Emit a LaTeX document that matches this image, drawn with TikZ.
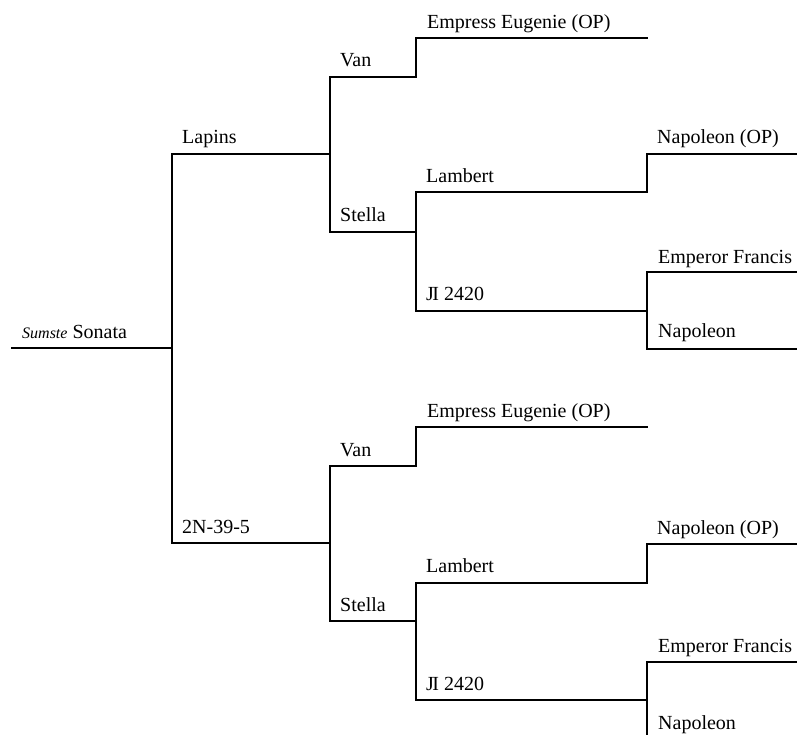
\documentclass[tikz,border=0pt]{standalone}
\usepackage{fontspec}
\setmainfont{Liberation Serif}
\tikzset{
  ped/.style={line width=1.5pt, line cap=rect},
  lbl/.style={anchor=base west, inner sep=0pt, font=\fontsize{20}{22}\selectfont},
}
\begin{document}
\begin{tikzpicture}[x=1pt, y=-1pt]
\clip (0,0) rectangle (797,735);
% junction coordinates (right ends of each bar)
\coordinate (root-l) at (12,348);
\coordinate (root) at (172,348);
\coordinate (lap) at (330,154);
\coordinate (tn) at (330,543);
% top branch
\coordinate (van1) at (416,77);
\coordinate (ste1) at (416,232);
\coordinate (ee1) at (647,38);
\coordinate (lam1) at (647,192);
\coordinate (ji1) at (647,311);
\coordinate (nop1) at (797,154);
\coordinate (ef1) at (797,272);
\coordinate (nap1) at (797,349);
% bottom branch
\coordinate (van2) at (416,466);
\coordinate (ste2) at (416,621);
\coordinate (ee2) at (647,427);
\coordinate (lam2) at (647,583);
\coordinate (ji2) at (647,700);
\coordinate (nop2) at (797,544);
\coordinate (ef2) at (797,662);
\coordinate (nap2) at (797,745);

\draw[ped] (root-l) -- (root);
\draw[ped] (root) |- (lap);
\draw[ped] (root) |- (tn);
\draw[ped] (lap) |- (van1);
\draw[ped] (lap) |- (ste1);
\draw[ped] (van1) |- (ee1);
\draw[ped] (ste1) |- (lam1);
\draw[ped] (ste1) |- (ji1);
\draw[ped] (lam1) |- (nop1);
\draw[ped] (ji1) |- (ef1);
\draw[ped] (ji1) |- (nap1);
\draw[ped] (tn) |- (van2);
\draw[ped] (tn) |- (ste2);
\draw[ped] (van2) |- (ee2);
\draw[ped] (ste2) |- (lam2);
\draw[ped] (ste2) |- (ji2);
\draw[ped] (lam2) |- (nop2);
\draw[ped] (ji2) |- (ef2);
\draw[ped] (ji2) |- (nap2);

% labels
\node[lbl] (t-root) at (22,338) {{\fontsize{16}{18}\selectfont\itshape Sumste} Sonata};
\node[lbl] (t-lap) at (182,144) {Lapins};
\node[lbl] (t-tn) at (182,533) {2N-39-5};
\node[lbl] (t-van1) at (340,67) {Van};
\node[lbl] (t-ste1) at (340,222) {Stella};
\node[lbl] (t-ee1) at (427,29) {Empress Eugenie (OP)};
\node[lbl] (t-lam1) at (426,183) {Lambert};
\node[lbl] (t-ji1) at (426,300) {J\kern-1.5pt I 2420};
\node[lbl] (t-nop1) at (657,144) {Napoleon (OP)};
\node[lbl] (t-ef1) at (658,263) {Emperor Francis};
\node[lbl] (t-nap1) at (658,337) {Napoleon};
\node[lbl] (t-van2) at (340,456) {Van};
\node[lbl] (t-ste2) at (340,611) {Stella};
\node[lbl] (t-ee2) at (427,417) {Empress Eugenie (OP)};
\node[lbl] (t-lam2) at (426,572) {Lambert};
\node[lbl] (t-ji2) at (426,690) {J\kern-1.5pt I 2420};
\node[lbl] (t-nop2) at (657,534) {Napoleon (OP)};
\node[lbl] (t-ef2) at (658,652) {Emperor Francis};
\node[lbl] (t-nap2) at (658,729) {Napoleon};
\end{tikzpicture}
\end{document}
